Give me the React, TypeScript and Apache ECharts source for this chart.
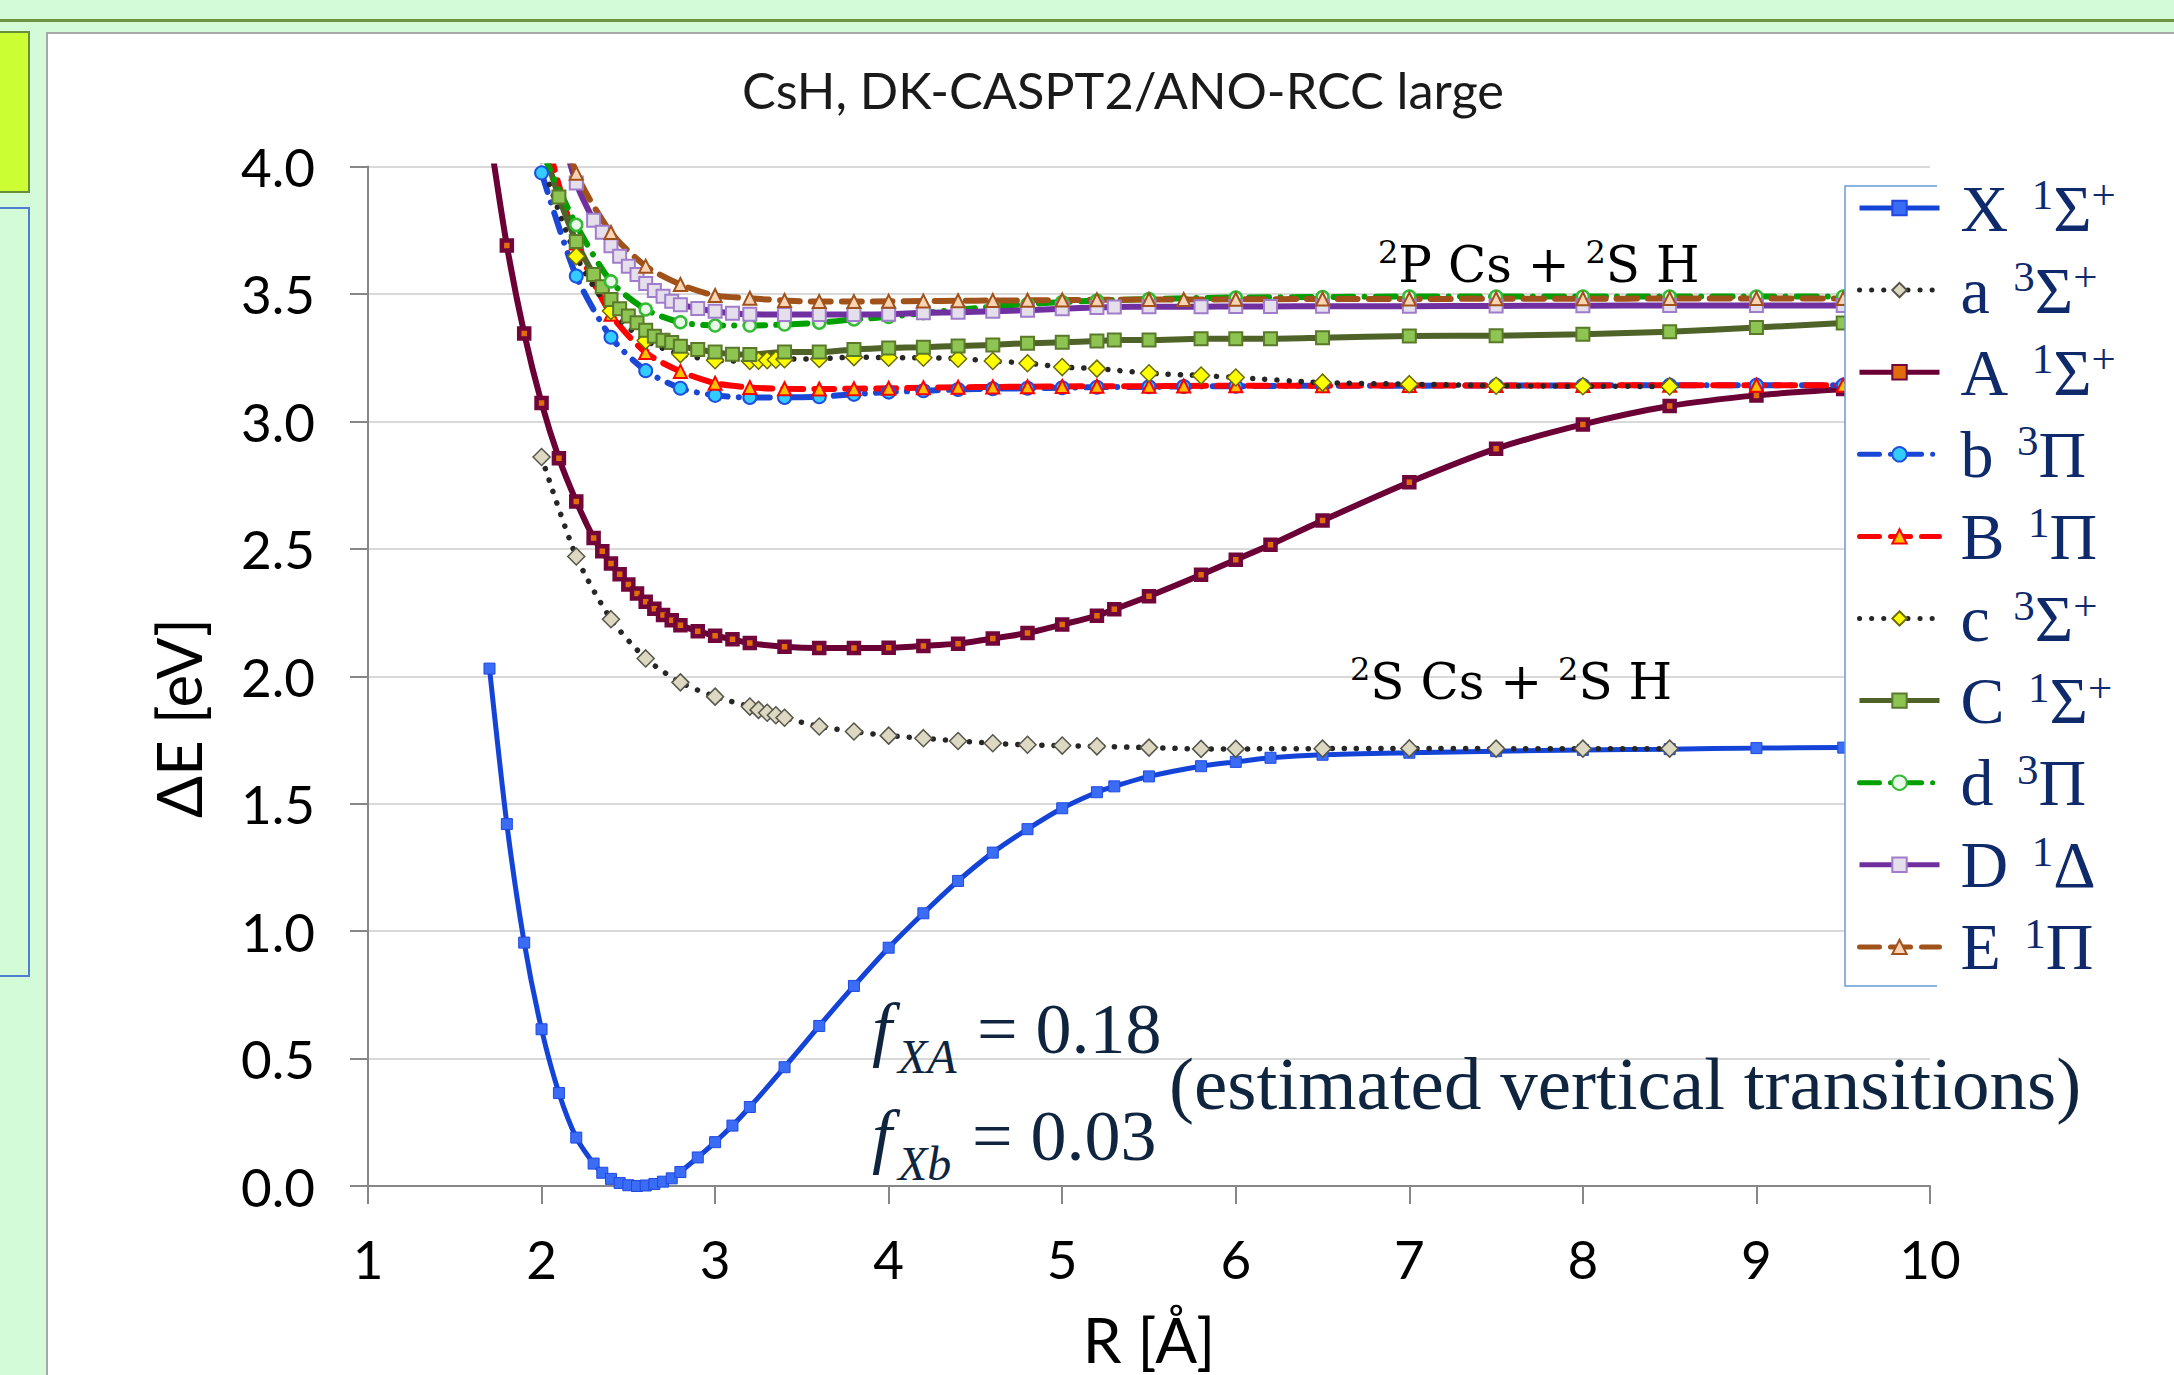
import React, { useEffect, useRef } from 'react';
import * as echarts from 'echarts';

const W = 2174;
const H = 1375;

// ---- axis ticks ----
const xMin = 1, xMax = 10, xStep = 1;
const yMin = 0, yMax = 4, yStep = 0.5;

// ---- state labels ----
const stateLetter = ['X', 'a', 'A', 'b', 'B', 'c', 'C', 'd', 'D', 'E'];
const stateMult = ['1', '3', '1', '3', '1', '3', '1', '3', '1', '1'];
const stateSym = ['Σ', 'Σ', 'Σ', 'Π', 'Π', 'Σ', 'Σ', 'Π', 'Δ', 'Π'];
const stateParity = ['+', '+', '+', '', '', '+', '+', '', '', ''];
const supChar: Record<string, string> = { '1': '¹', '3': '³', '+': '⁺', '': '' };
const stateNames = stateLetter.map((l, i) => `${l} ${supChar[stateMult[i]]}${stateSym[i]}${supChar[stateParity[i]]}`);

// ---- data (R in Å, ΔE in eV) ----
const rX = [1.7, 1.8, 1.9, 2.0, 2.1, 2.2, 2.3, 2.35, 2.4, 2.45, 2.5, 2.55, 2.6, 2.65, 2.7, 2.75, 2.8, 2.9, 3.0, 3.1, 3.2, 3.4, 3.6, 3.8, 4.0, 4.2, 4.4, 4.6, 4.8, 5.0, 5.2, 5.3, 5.5, 5.8, 6.0, 6.2, 6.5, 7.0, 7.5, 8.0, 8.5, 9.0, 9.5];
const eX = [2.03, 1.42, 0.955, 0.615, 0.365, 0.19, 0.088, 0.052, 0.028, 0.012, 0.003, 0.0, 0.002, 0.008, 0.017, 0.03, 0.055, 0.112, 0.172, 0.237, 0.31, 0.466, 0.628, 0.785, 0.935, 1.07, 1.197, 1.308, 1.40, 1.482, 1.545, 1.568, 1.607, 1.647, 1.664, 1.68, 1.692, 1.70, 1.706, 1.711, 1.714, 1.718, 1.72];

const ra = [2.0, 2.2, 2.4, 2.6, 2.8, 3.0, 3.2, 3.25, 3.3, 3.35, 3.4, 3.6, 3.8, 4.0, 4.2, 4.4, 4.6, 4.8, 5.0, 5.2, 5.5, 5.8, 6.0, 6.5, 7.0, 7.5, 8.0, 8.5];
const ea = [2.86, 2.47, 2.224, 2.07, 1.976, 1.92, 1.881, 1.868, 1.857, 1.847, 1.837, 1.803, 1.783, 1.767, 1.757, 1.746, 1.737, 1.731, 1.728, 1.725, 1.72, 1.715, 1.715, 1.716, 1.717, 1.716, 1.716, 1.716];

const rA = [1.7, 1.8, 1.9, 2.0, 2.1, 2.2, 2.3, 2.35, 2.4, 2.45, 2.5, 2.55, 2.6, 2.65, 2.7, 2.75, 2.8, 2.9, 3.0, 3.1, 3.2, 3.4, 3.6, 3.8, 4.0, 4.2, 4.4, 4.6, 4.8, 5.0, 5.2, 5.3, 5.5, 5.8, 6.0, 6.2, 6.5, 7.0, 7.5, 8.0, 8.5, 9.0, 9.5];
const eA = [4.13, 3.69, 3.345, 3.072, 2.855, 2.686, 2.542, 2.49, 2.442, 2.4, 2.36, 2.325, 2.292, 2.265, 2.24, 2.22, 2.20, 2.177, 2.159, 2.145, 2.13, 2.116, 2.111, 2.111, 2.112, 2.119, 2.128, 2.148, 2.17, 2.203, 2.237, 2.263, 2.314, 2.398, 2.457, 2.516, 2.611, 2.761, 2.893, 2.988, 3.06, 3.102, 3.127];

const rb = [2.0, 2.2, 2.4, 2.6, 2.8, 3.0, 3.2, 3.4, 3.6, 3.8, 4.0, 4.2, 4.4, 4.6, 4.8, 5.0, 5.2, 5.5, 5.7, 6.0, 6.5, 7.0, 7.5, 8.0, 8.5, 9.0, 9.5];
const eb = [3.975, 3.57, 3.33, 3.199, 3.13, 3.102, 3.094, 3.094, 3.097, 3.106, 3.115, 3.12, 3.125, 3.128, 3.13, 3.132, 3.134, 3.136, 3.137, 3.138, 3.14, 3.14, 3.141, 3.141, 3.142, 3.142, 3.142];

const rB = [2.0, 2.2, 2.4, 2.6, 2.8, 3.0, 3.2, 3.4, 3.6, 3.8, 4.0, 4.2, 4.4, 4.6, 4.8, 5.0, 5.2, 5.5, 5.7, 6.0, 6.5, 7.0, 7.5, 8.0, 8.5, 9.0, 9.5];
const eB = [4.18, 3.70, 3.42, 3.27, 3.196, 3.15, 3.133, 3.128, 3.127, 3.128, 3.13, 3.132, 3.134, 3.135, 3.136, 3.137, 3.138, 3.138, 3.139, 3.14, 3.14, 3.141, 3.141, 3.141, 3.142, 3.142, 3.142];

const rc = [2.0, 2.2, 2.4, 2.6, 2.8, 3.0, 3.2, 3.25, 3.3, 3.35, 3.4, 3.6, 3.8, 4.0, 4.2, 4.4, 4.6, 4.8, 5.0, 5.2, 5.5, 5.8, 6.0, 6.5, 7.0, 7.5, 8.0, 8.5];
const ec = [4.02, 3.648, 3.433, 3.317, 3.264, 3.24, 3.237, 3.238, 3.24, 3.242, 3.244, 3.245, 3.252, 3.25, 3.25, 3.246, 3.237, 3.228, 3.213, 3.207, 3.189, 3.18, 3.172, 3.152, 3.146, 3.14, 3.138, 3.137];

const rC = [2.0, 2.1, 2.2, 2.3, 2.35, 2.4, 2.45, 2.5, 2.55, 2.6, 2.65, 2.7, 2.75, 2.8, 2.9, 3.0, 3.1, 3.2, 3.4, 3.6, 3.8, 4.0, 4.2, 4.4, 4.6, 4.8, 5.0, 5.2, 5.3, 5.5, 5.8, 6.0, 6.2, 6.5, 7.0, 7.5, 8.0, 8.5, 9.0, 9.5];
const eC = [4.1, 3.88, 3.706, 3.576, 3.528, 3.478, 3.442, 3.413, 3.387, 3.358, 3.334, 3.318, 3.309, 3.295, 3.282, 3.272, 3.263, 3.262, 3.272, 3.272, 3.282, 3.288, 3.291, 3.296, 3.30, 3.307, 3.31, 3.315, 3.319, 3.319, 3.324, 3.324, 3.324, 3.328, 3.335, 3.336, 3.342, 3.352, 3.368, 3.386];

const rd = [2.0, 2.2, 2.4, 2.6, 2.8, 3.0, 3.2, 3.4, 3.6, 3.8, 4.0, 4.2, 4.4, 4.6, 4.8, 5.0, 5.2, 5.5, 6.0, 6.5, 7.0, 7.5, 8.0, 8.5, 9.0, 9.5];
const ed = [4.06, 3.771, 3.549, 3.439, 3.389, 3.376, 3.376, 3.38, 3.387, 3.40, 3.41, 3.425, 3.438, 3.45, 3.46, 3.468, 3.474, 3.48, 3.486, 3.488, 3.49, 3.49, 3.49, 3.49, 3.49, 3.49];

const rD = [2.1, 2.2, 2.3, 2.35, 2.4, 2.45, 2.5, 2.55, 2.6, 2.65, 2.7, 2.75, 2.8, 2.9, 3.0, 3.1, 3.2, 3.4, 3.6, 3.8, 4.0, 4.2, 4.4, 4.6, 4.8, 5.0, 5.2, 5.3, 5.5, 5.8, 6.0, 6.2, 6.5, 7.0, 7.5, 8.0, 8.5, 9.0, 9.5];
const eD = [4.17, 3.935, 3.789, 3.742, 3.689, 3.648, 3.609, 3.576, 3.541, 3.513, 3.491, 3.471, 3.458, 3.443, 3.432, 3.424, 3.42, 3.419, 3.419, 3.419, 3.42, 3.426, 3.428, 3.432, 3.436, 3.442, 3.447, 3.449, 3.45, 3.45, 3.451, 3.451, 3.452, 3.452, 3.453, 3.454, 3.455, 3.455, 3.455];

const rE = [2.0, 2.2, 2.4, 2.6, 2.8, 3.0, 3.2, 3.4, 3.6, 3.8, 4.0, 4.2, 4.4, 4.6, 4.8, 5.0, 5.2, 5.5, 5.7, 6.0, 6.5, 7.0, 7.5, 8.0, 8.5, 9.0, 9.5];
const eE = [4.4, 3.974, 3.741, 3.609, 3.537, 3.494, 3.483, 3.474, 3.47, 3.47, 3.471, 3.472, 3.473, 3.474, 3.475, 3.476, 3.477, 3.478, 3.478, 3.479, 3.48, 3.48, 3.481, 3.481, 3.482, 3.482, 3.482];

// ---- texts ----
const titleText = 'CsH, DK-CASPT2/ANO-RCC large';
const xName = 'R [Å]';
const yName = 'ΔE [eV]';
const asymP = '{s|2}{b|P Cs + }{s|2}{b|S H}';
const asymS = '{s|2}{b|S Cs + }{s|2}{b|S H}';
const fXA = '0.18';
const fXb = '0.03';
const noteText = '(estimated vertical transitions)';

const zip = (r: number[], e: number[]) => r.map((x, i) => [x, e[i]]);

const NAVY = '#0f2a6b';
const NOTE = '#0f243e';
const SANS = 'Lato';
const SERIF = 'Liberation Serif';

const dotted = [0.1, 12];
const dashDot = [20, 11, 0.1, 11];
const dashed = [20, 11];

function lineSeries(idx: number, data: number[][], line: any, symbol: string, symbolSize: number, item: any) {
  return {
    type: 'line',
    name: stateNames[idx],
    data,
    smooth: 0.25,
    clip: true,
    symbol,
    symbolSize,
    showSymbol: true,
    lineStyle: line,
    itemStyle: item,
    emphasis: { disabled: true },
    z: 2,
  };
}

function buildOption(): any {
  const series = [
    lineSeries(0, zip(rX, eX), { color: '#1443d8', width: 5 }, 'rect', 11, { color: '#3a6cf6', borderColor: '#1f49e0', borderWidth: 1 }),
    lineSeries(1, zip(ra, ea), { color: '#262626', width: 5.5, type: dotted, cap: 'round' }, 'diamond', 17, { color: '#ddd8c2', borderColor: '#55554a', borderWidth: 1.5 }),
    lineSeries(2, zip(rA, eA), { color: '#6b0036', width: 6 }, 'rect', 10, { color: '#e36c0a', borderColor: '#70063a', borderWidth: 4.5 }),
    lineSeries(3, zip(rb, eb), { color: '#1a47d6', width: 6, type: dashDot, cap: 'round' }, 'circle', 13, { color: '#33ccff', borderColor: '#1e4fe0', borderWidth: 2 }),
    lineSeries(4, zip(rB, eB), { color: '#ff0000', width: 6, type: dashed, cap: 'round' }, 'triangle', 13, { color: '#ffc000', borderColor: '#ff0000', borderWidth: 2 }),
    lineSeries(5, zip(rc, ec), { color: '#262626', width: 5.5, type: dotted, cap: 'round' }, 'diamond', 17, { color: '#ffff00', borderColor: '#6b6b00', borderWidth: 1.5 }),
    lineSeries(6, zip(rC, eC), { color: '#4f6228', width: 6 }, 'rect', 13, { color: '#8dc452', borderColor: '#5a7a2a', borderWidth: 2 }),
    lineSeries(7, zip(rd, ed), { color: '#00a000', width: 6, type: dashDot, cap: 'round' }, 'circle', 12, { color: '#eaf8ea', borderColor: '#33bb33', borderWidth: 2.5 }),
    lineSeries(8, zip(rD, eD), { color: '#7030a0', width: 6 }, 'rect', 13, { color: '#e5dfec', borderColor: '#a07ccc', borderWidth: 2 }),
    lineSeries(9, zip(rE, eE), { color: '#a0521a', width: 6, type: dashed, cap: 'round' }, 'triangle', 13, { color: '#fbd4b4', borderColor: '#a0521a', borderWidth: 2 }),
  ];

  const grayRich = {
    b: { fontFamily: 'DejaVu Serif', fontSize: 50, lineHeight: 58, color: '#595959' },
    s: { fontFamily: 'DejaVu Serif', fontSize: 32, lineHeight: 37, verticalAlign: 'top', color: '#595959' },
  };

  return {
    animation: false,
    backgroundColor: 'transparent',
    title: {
      text: titleText,
      left: 742,
      top: 59,
      padding: 0,
      textStyle: { fontFamily: SANS, fontSize: 50.5, lineHeight: 60, fontWeight: 'normal', color: '#1a1a1a' },
    },
    grid: { left: 368, right: W - 1930, top: 166.5, bottom: H - 1189, containLabel: false },
    xAxis: {
      type: 'value',
      min: xMin,
      max: xMax,
      interval: xStep,
      name: xName,
      nameLocation: 'middle',
      nameGap: 122,
      nameTextStyle: { fontFamily: SANS, fontSize: 62, color: '#000' },
      axisLine: { show: true, onZero: false, lineStyle: { color: '#878787', width: 2 } },
      axisTick: { show: true, length: 18, lineStyle: { color: '#878787', width: 2 } },
      axisLabel: { fontFamily: SANS, fontSize: 53, color: '#000', margin: 46 },
      splitLine: { show: false },
    },
    yAxis: {
      type: 'value',
      min: yMin,
      max: yMax,
      interval: yStep,
      axisLine: { show: true, onZero: false, lineStyle: { color: '#878787', width: 2 } },
      axisTick: { show: true, length: 18, lineStyle: { color: '#878787', width: 2 } },
      axisLabel: { fontFamily: SANS, fontSize: 53, color: '#000', margin: 53, formatter: (v: number) => v.toFixed(1) },
      splitLine: { show: true, lineStyle: { color: '#d9d9d9', width: 2 } },
    },
    legend: {
      orient: 'vertical',
      left: 1857,
      top: 173,
      padding: 0,
      itemWidth: 80,
      itemHeight: 18,
      itemGap: 14.1,
      align: 'left',
      selectedMode: false,
      z: 20,
      data: stateNames,
      lineStyle: { width: 5 },
      formatter: (name: string) => {
        const i = stateNames.indexOf(name);
        let s = `{b|${stateLetter[i]} }{m|${stateMult[i]}}{b|${stateSym[i]}}`;
        if (stateParity[i]) s += `{s|${stateParity[i]}}`;
        return s;
      },
      textStyle: {
        padding: [0, 0, 0, 16],
        rich: {
          b: { fontFamily: SERIF, fontSize: 66, lineHeight: 70, color: NAVY },
          m: { fontFamily: SERIF, fontSize: 43, lineHeight: 46, verticalAlign: 'top', color: NAVY, padding: [0, 0, 0, 7] },
          s: { fontFamily: SERIF, fontSize: 43, lineHeight: 46, verticalAlign: 'top', color: NAVY },
        },
      },
    },
    graphic: [
      { type: 'rect', silent: true, z: 10, shape: { x: 1845, y: 186, width: 400, height: 800 }, style: { fill: '#ffffff' } },
      { type: 'polyline', silent: true, z: 11, shape: { points: [[1937, 186], [1845, 186], [1845, 986], [1937, 986]] }, style: { stroke: '#6b9bd8', lineWidth: 1.5, fill: null } },
      { type: 'text', silent: true, z: 12, x: 178, y: 718, rotation: Math.PI / 2, style: { text: yName, fontFamily: SANS, fontSize: 62, fill: '#000', align: 'center', verticalAlign: 'middle' } },
      { type: 'text', silent: true, z: 12, x: 1378, y: 236, style: { text: asymP, align: 'left', verticalAlign: 'top', rich: grayRich } },
      { type: 'text', silent: true, z: 12, x: 1350, y: 653, style: { text: asymS, align: 'left', verticalAlign: 'top', rich: grayRich } },
      { type: 'text', silent: true, z: 12, x: 872, y: 1029, style: { text: 'f', fontFamily: SERIF, fontStyle: 'italic', fontSize: 72, fill: NOTE, align: 'left', verticalAlign: 'middle' } },
      { type: 'text', silent: true, z: 12, x: 898, y: 1056, style: { text: 'XA', fontFamily: SERIF, fontStyle: 'italic', fontSize: 48, fill: NOTE, align: 'left', verticalAlign: 'middle' } },
      { type: 'text', silent: true, z: 12, x: 977, y: 1029, style: { text: '= ' + fXA, fontFamily: SERIF, fontSize: 72, fill: NOTE, align: 'left', verticalAlign: 'middle' } },
      { type: 'text', silent: true, z: 12, x: 872, y: 1136, style: { text: 'f', fontFamily: SERIF, fontStyle: 'italic', fontSize: 72, fill: NOTE, align: 'left', verticalAlign: 'middle' } },
      { type: 'text', silent: true, z: 12, x: 898, y: 1163, style: { text: 'Xb', fontFamily: SERIF, fontStyle: 'italic', fontSize: 48, fill: NOTE, align: 'left', verticalAlign: 'middle' } },
      { type: 'text', silent: true, z: 12, x: 972, y: 1136, style: { text: '= ' + fXb, fontFamily: SERIF, fontSize: 72, fill: NOTE, align: 'left', verticalAlign: 'middle' } },
      { type: 'text', silent: true, z: 12, x: 1169, y: 1083, style: { text: noteText, fontFamily: SERIF, fontSize: 75, fill: NOTE, align: 'left', verticalAlign: 'middle' } },
    ],
    series,
  };
}

export default function App() {
  const ref = useRef<HTMLDivElement>(null);
  useEffect(() => {
    if (!ref.current) return;
    const chart = echarts.init(ref.current, null, { renderer: 'svg', width: W, height: H });
    chart.setOption(buildOption());
    return () => chart.dispose();
  }, []);
  return (
    <div style={{ position: 'absolute', left: 0, top: 0, width: W, height: H, overflow: 'hidden', background: '#d4fbd7' }}>
      <div style={{ position: 'absolute', left: 0, top: 19, width: W, height: 3, background: '#6f9440' }} />
      <div style={{ position: 'absolute', left: -2, top: 31, width: 28, height: 158, background: '#ccff33', border: '2px solid #6a8f3a' }} />
      <div style={{ position: 'absolute', left: -2, top: 207, width: 28, height: 766, border: '2px solid #4f7fd0' }} />
      <div style={{ position: 'absolute', left: 46, top: 32, width: 2300, height: 1500, background: '#ffffff', border: '2px solid #a8a8a8', boxSizing: 'border-box' }} />
      <div ref={ref} style={{ position: 'absolute', left: 0, top: 0, width: W, height: H }} />
    </div>
  );
}
